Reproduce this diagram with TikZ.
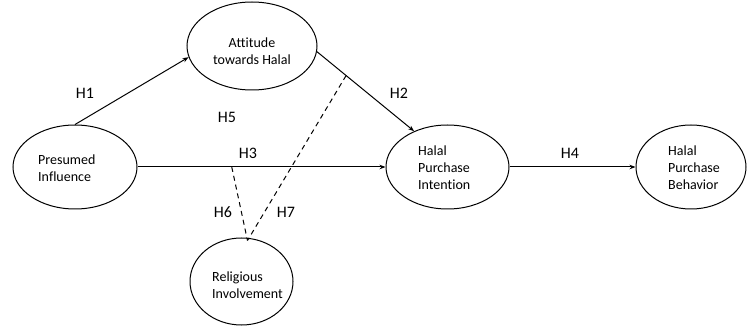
\documentclass[tikz,border=0pt]{standalone}
\usepackage{fontspec}
\setmainfont{Carlito}[Ligatures={NoCommon}]
\usetikzlibrary{shapes.geometric,arrows.meta,calc}
\begin{document}
\begin{tikzpicture}[x=1pt,y=-1pt,
  ell/.style={draw,ellipse,line width=1pt,inner sep=0pt},
  txt/.style={font=\fontsize{14}{17}\selectfont,align=left,inner sep=0pt},
  hyp/.style={font=\fontsize{16}{19}\selectfont,inner sep=0pt},
  arr/.style={line width=1pt,-{Stealth[length=6pt,width=4.5pt]}},
  dsh/.style={line width=1pt,dash pattern=on 5pt off 4pt}]
\useasboundingbox (0,0) rectangle (748,326);
% ellipses
\node[ell,minimum width=130pt,minimum height=88pt] (AT) at (252,46) {};
\node[ell,minimum width=124pt,minimum height=84pt] (PI) at (75,167) {};
\node[ell,minimum width=123pt,minimum height=84pt] (HI) at (447.5,167) {};
\node[ell,minimum width=110pt,minimum height=84pt] (HB) at (691,167) {};
\node[ell,minimum width=103pt,minimum height=87pt] (RI) at (241.5,281.5) {};
% texts
\node[txt,align=center] (ATt) at (252,51) {Attitude\\towards Halal};
\node[txt,anchor=west] (PIt) at (38,168.5) {Presumed\\Influence};
\node[txt,anchor=west] (HIt) at (418,168) {Halal\\Purchase\\Intention};
\node[txt,anchor=west] (HBt) at (668,168) {Halal\\Purchase\\Behavior};
\node[txt,anchor=west] (RIt) at (212,285) {Religious\\Involvement};
% connectors
\draw[arr] (PI.north) -- (AT.190);
\draw[arr] (AT.-5) -- (HI.133);
\draw[arr] (PI.east) -- (HI.west);
\draw[arr] (HI.east) -- (HB.west);
\coordinate (m6) at ($(PI.east)!0.38!(HI.west)$);
\coordinate (m7) at ($(AT.-5)!0.3!(HI.133)$);
\coordinate (rt) at ($(RI.north)+(6,3)$);
\draw[dsh] (m6) -- (rt);
\draw[dsh] (m7) -- (rt);
% hypothesis labels
\node[hyp] (H1) at (85,93) {H1};
\node[hyp] (H2) at (399,93) {H2};
\node[hyp] (H5) at (227,117) {H5};
\node[hyp] (H3) at (248,153) {H3};
\node[hyp] (H4) at (570,153) {H4};
\node[hyp] (H6) at (223,212) {H6};
\node[hyp] (H7) at (286,212) {H7};
\end{tikzpicture}
\end{document}
